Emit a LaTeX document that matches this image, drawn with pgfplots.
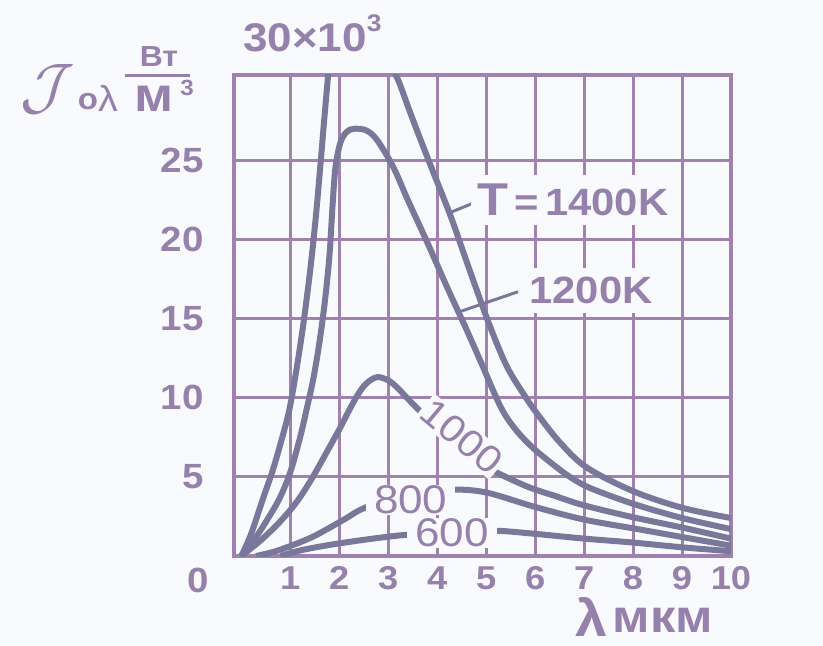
\documentclass[border=0pt]{standalone}
\usepackage{pgfplots}
\pgfplotsset{compat=1.18}
\usepackage{graphicx}
\usepackage{fontspec}
\setmainfont{Liberation Sans}[FakeStretch=1.1]
\definecolor{bgc}{RGB}{248,250,253}
\definecolor{gridc}{RGB}{160,130,176}
\definecolor{curvec}{RGB}{122,120,154}
\definecolor{textc}{RGB}{150,128,172}
\begin{document}
\begin{tikzpicture}
\fill[bgc] (-234pt,-90pt) rectangle (589pt,556pt);
\begin{axis}[
  at={(0pt,0pt)}, anchor=south west,
  scale only axis, width=497pt, height=481pt,
  xmin=-0.15, xmax=10, ymin=0, ymax=30.4,
  xtick={1,2,3,4,5,6,7,8,9,10},
  xticklabels={1,2,3,4,5,6,7,8,9,10},
  ytick={5,10,15,20,25},
  yticklabels={5,10,15,20,25},
  /pgf/number format/assume math mode=true,
  grid=major,
  major grid style={gridc, line width=3pt},
  axis line style={gridc, line width=3.5pt},
  major tick length=0pt,
  xticklabel style={font=\fontsize{33}{33}\selectfont\bfseries, text=textc, yshift=-7pt},
  yticklabel style={font=\fontsize{35}{35}\selectfont\bfseries, text=textc, xshift=-27pt},
  clip=true,
]
\addplot[curvec, line width=6pt, smooth, tension=0.55, line join=round] coordinates {
(0,0) (0.2,1.4) (0.45,3.7) (0.63,5.3) (0.8,7.1) (0.97,9.1) (1.1,11.3) (1.25,14.3)
(1.4,17.9) (1.52,21.4) (1.62,24.9) (1.71,28.2) (1.8,31.2) (1.95,35) (2.3,38.5)
(2.7,37.5) (3.0,33.5) (3.12,30.8) (3.24,29.8) (3.5,27.6) (3.85,24.8) (4.26,21.6)
(4.5,19.5) (4.75,17.3) (5.08,14.5) (5.42,12.0) (5.75,10.3) (6.04,9.0) (6.5,7.2)
(7.05,5.6) (8,4.1) (9,3.05) (10,2.4)};
\addplot[curvec, line width=6pt, smooth, tension=0.55, line join=round] coordinates {
(0,0) (0.3,1.2) (0.55,2.4) (0.79,3.7) (1.0,5.3) (1.2,7.5) (1.35,9.5) (1.47,11.2)
(1.6,13.6) (1.71,16.2) (1.8,19.0) (1.86,22.0) (1.92,24.5) (2.02,26.1) (2.15,26.8)
(2.3,27.0) (2.55,26.9) (2.77,26.3) (3.1,24.6) (3.4,22.5) (3.8,19.8) (4.2,17.0)
(4.6,14.3) (4.9,12.2) (5.3,9.4) (5.6,8.0) (5.95,6.85) (6.4,5.7) (6.71,5.0)
(7.12,4.3) (8,3.3) (9,2.4) (10,1.7)};
\addplot[curvec, line width=6pt, smooth, tension=0.55, line join=round] coordinates {
(0,0) (0.4,1.0) (0.8,2.2) (1.15,3.5) (1.46,5.0) (1.75,6.6) (2.0,8.0) (2.2,9.2)
(2.38,10.2) (2.55,10.9) (2.77,11.3) (3.0,11.1) (3.2,10.6) (3.38,10.0) (3.8,8.7)
(4.3,7.3) (4.75,6.2) (5.14,5.4) (5.83,4.4) (6.4,3.8) (7,3.2) (8,2.45) (9,1.8) (10,1.1)};
\addplot[curvec, line width=6pt, smooth, tension=0.55, line join=round] coordinates {
(0.3,0) (0.7,0.3) (1.1,0.75) (1.45,1.2) (1.81,1.8) (2.15,2.4) (2.45,2.95) (3.0,3.6)
(3.6,4.05) (4.36,4.2) (5.02,4.0) (6,3.1) (7,2.3) (8,1.75) (9,1.2) (10,0.65)};
\addplot[curvec, line width=6pt, smooth, tension=0.55, line join=round] coordinates {
(0.8,0) (1.2,0.35) (1.8,0.7) (2.45,1.0) (3.0,1.22) (3.34,1.33) (4.3,1.55) (5.18,1.6)
(6,1.4) (7,1.1) (8,0.85) (9,0.55) (10,0.3)};
% leaders
\draw[curvec, line width=3pt] (axis cs:4.26,21.7) -- (axis cs:4.85,22.45);
\draw[curvec, line width=3pt] (axis cs:4.42,15.4) -- (axis cs:5.65,16.7);
% curve labels
\node[fill=bgc, inner xsep=6pt, inner ysep=9pt, text=textc, font=\fontsize{38}{38}\selectfont\bfseries]
  at (axis cs:6.77,22.5) {{\fontsize{46}{46}\selectfont T}\,=\,1400K};
\node[fill=bgc, inner xsep=6pt, inner ysep=9pt, text=textc, font=\fontsize{38}{38}\selectfont\bfseries]
  at (axis cs:7.14,16.8) {1200K};
\node[fill=bgc, inner sep=2pt, rotate=-40, text=textc, font=\fontsize{38}{38}\selectfont]
  at (axis cs:4.5,7.55) {1000};
\node[fill=bgc, inner xsep=8pt, inner ysep=1pt, text=textc, font=\fontsize{40}{40}\selectfont]
  at (axis cs:3.46,3.54) {800};
\node[fill=bgc, inner xsep=8pt, inner ysep=1pt, text=textc, font=\fontsize{40}{40}\selectfont]
  at (axis cs:4.30,1.46) {600};
\end{axis}
% zero label
\node[text=textc, font=\fontsize{35}{35}\selectfont\bfseries] at (-36pt,-24pt) {0};
% top multiplier
\node[anchor=base west, inner sep=0pt, text=textc, font=\fontsize{40}{40}\selectfont\bfseries]
  at (9pt,504pt) {30×10\raisebox{20pt}{\fontsize{24}{24}\selectfont 3}};
% y label
\node[text=textc, inner sep=0pt] at (-186pt,467pt) {\scalebox{6.3}{$\mathcal{J}$}};
\node[text=textc, font=\fontsize{30}{30}\selectfont\bfseries] at (-146pt,454pt) {o};
\node[text=textc, font=\fontsize{36}{36}\selectfont] at (-126pt,458pt) {λ};
\node[text=textc, font=\fontsize{29}{29}\selectfont\bfseries] at (-75pt,499pt) {Вт};
\draw[textc, line width=3pt] (-109pt,480pt) -- (-44pt,480pt);
\node[text=textc, inner sep=0pt, font=\fontsize{48}{48}\selectfont\bfseries] at (-80pt,457pt) {м};
\node[text=textc, inner sep=0pt, font=\fontsize{22}{22}\selectfont\bfseries] at (-47pt,468pt) {3};
% x label
\node[text=textc, inner sep=0pt, font=\fontsize{52}{52}\selectfont\bfseries] at (357pt,-61pt) {λ};
\node[text=textc, inner sep=0pt, font=\fontsize{46}{46}\selectfont\bfseries] at (429pt,-64pt) {мкм};
\end{tikzpicture}
\end{document}
